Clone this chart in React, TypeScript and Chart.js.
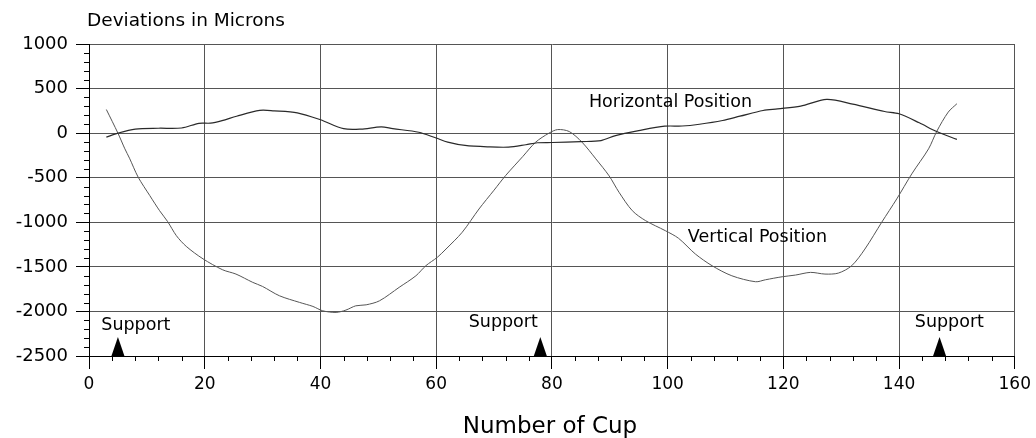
import React, { useEffect, useRef } from "react";
import { Chart, registerables } from "chart.js";

Chart.register(...registerables);

const horizontalCups = [3, 5, 8, 12, 16, 19, 21, 23, 25.5, 29.5, 32, 36, 40, 44, 47, 50.5, 52.5, 57, 60, 62, 65, 69, 72.5, 75.5, 77.5, 80, 85, 88.5, 91, 95, 99.5, 102.5, 105.5, 109.5, 112.5, 116.5, 119, 123, 127.5, 132, 137.5, 140, 143.5, 146.5, 150];
const horizontalValues = [-45, 0, 45, 55, 58, 110, 112, 140, 190, 255, 250, 228, 150, 50, 45, 70, 50, 10, -55, -100, -138, -154, -157, -130, -108, -105, -95, -83, -27, 28, 78, 80, 100, 142, 190, 254, 272, 303, 378, 326, 243, 217, 116, 18, -70];

const verticalCups = [3, 5, 6.2, 7, 8.5, 10.5, 12.2, 13.6, 15.1, 16.8, 19.7, 23.1, 25.4, 28.3, 30, 32.9, 36.4, 38.7, 40.4, 42.7, 44.4, 46.1, 47.9, 50.2, 53.6, 56.5, 58.2, 60.2, 61.7, 64.5, 67.4, 70, 72, 75, 77.2, 79.5, 81, 83, 85.2, 87.6, 89.9, 91.6, 93.9, 96.2, 99.6, 101.9, 104.8, 107.7, 111.1, 115.2, 116.9, 119.8, 122.1, 124.7, 127.2, 129.5, 131.8, 134.1, 137, 139.6, 142.2, 145.1, 146.5, 148.5, 150];
const verticalValues = [265, 0, -176, -281, -494, -700, -870, -993, -1150, -1270, -1410, -1533, -1581, -1674, -1720, -1824, -1899, -1944, -1993, -2011, -1985, -1937, -1926, -1881, -1730, -1600, -1488, -1393, -1300, -1112, -851, -640, -476, -260, -101, 0, 40, 18, -101, -289, -480, -663, -870, -982, -1094, -1180, -1356, -1488, -1600, -1667, -1645, -1611, -1592, -1562, -1581, -1570, -1488, -1300, -1000, -738, -457, -176, 18, 236, 330];

const xTickValues = [0, 20, 40, 60, 80, 100, 120, 140, 160];
const yTickValues = [-2500, -2000, -1500, -1000, -500, 0, 500, 1000];
const supportCups = [5, 78, 147];

const FONT = '"DejaVu Sans", "Liberation Sans", Arial, sans-serif';

const overlayPlugin = {
  id: "overlay",
  afterDatasetsDraw(chart: any) {
    const { ctx, chartArea, scales } = chart;
    const xs = scales.x;
    const ys = scales.y;
    ctx.save();
    // minor ticks
    ctx.strokeStyle = "#000";
    ctx.lineWidth = 1;
    for (let v = -2500; v <= 1000; v += 100) {
      if (v % 500 === 0) continue;
      const py = Math.round(ys.getPixelForValue(v)) + 0.5;
      ctx.beginPath();
      ctx.moveTo(chartArea.left - 5, py);
      ctx.lineTo(chartArea.left, py);
      ctx.stroke();
    }
    for (let v = 0; v <= 160; v += 4) {
      if (v % 20 === 0) continue;
      const px = Math.round(xs.getPixelForValue(v)) + 0.5;
      ctx.beginPath();
      ctx.moveTo(px, chartArea.bottom);
      ctx.lineTo(px, chartArea.bottom + 5);
      ctx.stroke();
    }
    // support triangles
    ctx.fillStyle = "#000";
    const baseY = ys.getPixelForValue(-2500);
    supportCups.forEach((c) => {
      const px = xs.getPixelForValue(c);
      ctx.beginPath();
      ctx.moveTo(px - 6.5, baseY);
      ctx.lineTo(px + 6.5, baseY);
      ctx.lineTo(px, baseY - 19);
      ctx.closePath();
      ctx.fill();
    });
    // text
    ctx.fillStyle = "#000";
    ctx.textBaseline = "alphabetic";
    ctx.font = `17.5px ${FONT}`;
    ctx.textAlign = "center";
    const supportLabelCups = [8.1, 71.6, 148.7];
    const supportLabelVals = [-2205, -2170, -2170];
    supportLabelCups.forEach((c, i) => {
      ctx.fillText("Support", xs.getPixelForValue(c), ys.getPixelForValue(supportLabelVals[i]));
    });
    ctx.textAlign = "left";
    ctx.fillText("Horizontal Position", xs.getPixelForValue(86.4), ys.getPixelForValue(294));
    ctx.fillText("Vertical Position", xs.getPixelForValue(103.5), ys.getPixelForValue(-1219));
    ctx.font = `18.5px ${FONT}`;
    ctx.fillText("Deviations in Microns", 87, 26);
    ctx.font = `23px ${FONT}`;
    ctx.textAlign = "center";
    ctx.fillText("Number of Cup", 550, 433);
    ctx.restore();
  },
};

export default function App() {
  const ref = useRef<HTMLCanvasElement>(null);
  useEffect(() => {
    if (!ref.current) return;
    const chart = new Chart(ref.current, {
      type: "line",
      data: {
        datasets: [
          {
            label: "Horizontal Position",
            data: horizontalCups.map((c, i) => ({ x: c, y: horizontalValues[i] })),
            borderColor: "#2a2a2a",
            borderWidth: 1.2,
            pointRadius: 0,
            tension: 0.3,
            fill: false,
          },
          {
            label: "Vertical Position",
            data: verticalCups.map((c, i) => ({ x: c, y: verticalValues[i] })),
            borderColor: "#555",
            borderWidth: 1,
            pointRadius: 0,
            tension: 0.3,
            fill: false,
          },
        ],
      },
      options: {
        animation: false,
        responsive: false,
        devicePixelRatio: 1,
        layout: { padding: { left: 0, right: 20, top: 44, bottom: 0 } },
        plugins: { legend: { display: false }, tooltip: { enabled: false } },
        scales: {
          x: {
            type: "linear",
            min: 0,
            max: 160,
            afterBuildTicks: (s: any) => {
              s.ticks = xTickValues.map((v) => ({ value: v }));
            },
            afterFit: (s: any) => {
              s.height = 82;
            },
            grid: { color: "#555", lineWidth: 1, tickLength: 13, tickColor: "#000" },
            border: { color: "#000", width: 1 },
            ticks: {
              font: { family: FONT, size: 17 },
              color: "#000",
              padding: 5,
              maxRotation: 0,
              callback: (v: any) => String(v),
            },
          },
          y: {
            type: "linear",
            min: -2500,
            max: 1000,
            afterBuildTicks: (s: any) => {
              s.ticks = yTickValues.map((v) => ({ value: v }));
            },
            afterFit: (s: any) => {
              s.width = 89;
            },
            grid: { color: "#555", lineWidth: 1, tickLength: 13, tickColor: "#000" },
            border: { color: "#000", width: 1 },
            ticks: {
              font: { family: FONT, size: 18 },
              color: "#000",
              padding: 8,
              callback: (v: any) => String(v),
            },
          },
        },
      },
      plugins: [overlayPlugin],
    });
    return () => chart.destroy();
  }, []);
  return (
    <div style={{ position: "fixed", left: 0, top: 0, width: 1036, height: 438, background: "#fff" }}>
      <canvas ref={ref} width={1036} height={438} />
    </div>
  );
}
